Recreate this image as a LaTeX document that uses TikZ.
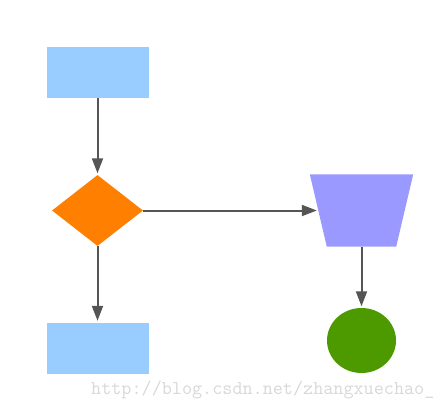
\documentclass[tikz,border=0pt]{standalone}
\usetikzlibrary{shapes.geometric,arrows.meta,calc}
\definecolor{lblue}{HTML}{99CCFF}
\definecolor{dorange}{HTML}{FF8000}
\definecolor{lpurple}{HTML}{9999FF}
\definecolor{dgreen}{HTML}{4D9900}
\definecolor{agray}{HTML}{555555}
\definecolor{wgray}{HTML}{D8D8D8}
\tikzset{
  rectbox/.style={rectangle, fill=lblue, inner sep=0pt, minimum width=102pt, minimum height=51pt},
  decbox/.style={diamond, fill=dorange, inner sep=0pt, minimum width=91pt, minimum height=71pt},
  trapbox/.style={rectangle, inner sep=0pt, minimum width=86pt, minimum height=72pt},
  endbox/.style={ellipse, fill=dgreen, inner sep=0pt, minimum width=69pt, minimum height=65pt},
  conn/.style={draw=agray, line width=2pt, -{Triangle[length=15pt,width=11pt]}, shorten >=1.5pt}
}
\begin{document}
\begin{tikzpicture}[x=1pt,y=-1pt]
\useasboundingbox (0,0) rectangle (443,405);
\node[rectbox] (top) at (97.5,72) {};
\node[decbox] (dec) at (97.5,210.5) {};
\node[rectbox] (bot) at (97.5,348) {};
\node[trapbox] (trap) at (361.5,210.5) {};
\fill[lpurple] ($(trap.north west)+(-8.5,0)$) -- ($(trap.north east)+(8.5,0)$) -- ($(trap.south east)+(-8.5,0)$) -- ($(trap.south west)+(8.5,0)$) -- cycle;
\node[endbox] (end) at (361.5,340.5) {};
\draw[conn] (top.south) -- (dec.north);
\draw[conn] (dec.south) -- (bot.north);
\draw[conn] (dec.east) -- (trap.west);
\draw[conn] (trap.south) -- (end.north);
\node[anchor=base west, inner sep=0pt, text=wgray, font=\ttfamily\fontsize{19.6}{21}\selectfont] (wm) at (91,394) {http://blog.csdn.net/zhangxuechao\_};
\end{tikzpicture}
\end{document}
